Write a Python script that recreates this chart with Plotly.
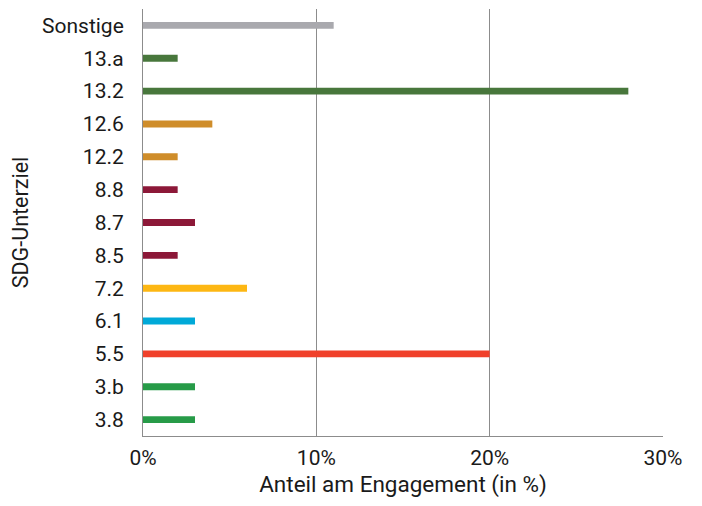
import plotly.graph_objects as go

categories = ["3.8", "3.b", "5.5", "6.1", "7.2", "8.5", "8.7", "8.8", "12.2", "12.6", "13.2", "13.a", "Sonstige"]
values = [3, 3, 20, 3, 6, 2, 3, 2, 2, 4, 28, 2, 11]
colors = ["#279b48", "#279b48", "#f0402a", "#00a9d8", "#fdb713", "#8c1838", "#8c1838", "#8c1838",
          "#cf8d2a", "#cf8d2a", "#48773c", "#48773c", "#a9a9ae"]
x_ticks = [0, 10, 20, 30]
x_tick_labels = ["0%", "10%", "20%", "30%"]

fig = go.Figure(go.Bar(
    x=values, y=categories, orientation="h",
    marker=dict(color=colors, line=dict(width=0)),
    width=0.21,
))

font_family = "Roboto"
tick_font = dict(family=font_family, size=21, color="#1a1a1a")
fig.update_layout(
    width=686, height=490,
    margin=dict(l=135, r=31, t=1, b=62),
    paper_bgcolor="white", plot_bgcolor="white",
    font=dict(family=font_family, size=21, color="#1a1a1a"),
    showlegend=False,
    xaxis=dict(
        range=[0, 30], tickvals=x_ticks, ticktext=x_tick_labels,
        showgrid=True, gridcolor="#8c8c8c", gridwidth=1,
        showline=True, linecolor="#8c8c8c", linewidth=1,
        zeroline=False, ticks="", layer="above traces",
        automargin=False, ticklabelstandoff=3,
        title=dict(text="Anteil am Engagement (in %)", standoff=16,
                   font=dict(family=font_family, size=22.5, color="#1a1a1a")),
        tickfont=tick_font,
    ),
    yaxis=dict(
        categoryorder="array", categoryarray=categories,
        range=[-0.5, len(categories) - 0.5],
        showgrid=False, showline=True, linecolor="#8c8c8c", linewidth=1,
        ticks="", ticklabelstandoff=14, layer="above traces", automargin=False,
        title=dict(text="SDG-Unterziel", standoff=10,
                   font=dict(family=font_family, size=21.5, color="#1a1a1a")),
        tickfont=tick_font,
    ),
)

fig.write_html("out.html")
